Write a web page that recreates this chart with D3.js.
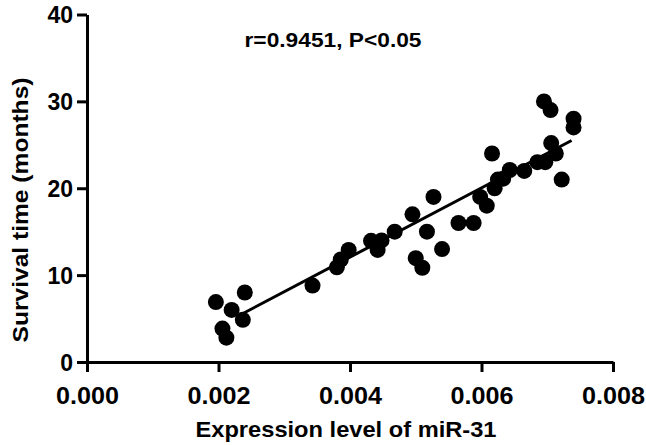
<!DOCTYPE html>
<html><head><meta charset="utf-8">
<script src="https://cdn.jsdelivr.net/npm/d3@7"></script>
<style>body{margin:0;background:#fff}svg{display:block}text{font-family:"Liberation Sans",Arial,sans-serif;font-weight:bold;fill:#000}</style>
</head><body>
<svg id="c" width="646" height="445"></svg>
<script>
const xValues = [0.00196,0.00206,0.00212,0.00220,0.00237,0.00240,0.00343,0.00380,0.00386,0.00398,0.00432,0.00442,0.00448,0.00468,0.00495,0.00500,0.00510,0.00517,0.00527,0.00540,0.00565,0.00588,0.00598,0.00608,0.00616,0.00620,0.00625,0.00633,0.00643,0.00665,0.00685,0.00697,0.00695,0.00705,0.00706,0.00713,0.00722,0.00740,0.00740];
const yValues = [6.9,3.85,2.8,6.0,4.85,8.0,8.8,10.9,11.8,12.9,13.95,12.9,14.0,15.0,17.0,11.95,10.85,15.0,19.0,13.0,16.0,16.0,19.0,18.0,24.0,20.0,21.0,21.1,22.1,22.0,23.0,23.0,30.0,29.0,25.2,24.0,21.0,28.0,27.0];
const xTicks = [0,0.002,0.004,0.006,0.008];
const xTickLabels = ["0.000","0.002","0.004","0.006","0.008"];
const yTicks = [0,10,20,30,40];
const fitX = [0.0023,0.00737];
const fitY = [5.3,25.5];
const annotation = "r=0.9451, P<0.05";
const xTitle = "Expression level of miR-31";
const yTitle = "Survival time (months)";

const svg = d3.select("#c");
const x = d3.scaleLinear().domain([0,0.008]).range([87,613]);
const y = d3.scaleLinear().domain([0,40]).range([362,14.5]);

const xAxis = d3.axisBottom(x).tickValues(xTicks).tickFormat((d,i)=>xTickLabels[i]).tickSize(10).tickSizeOuter(0).tickPadding(12);
const gx = svg.append("g").attr("transform",`translate(0,${y(0)})`).call(xAxis);
const yAxis = d3.axisLeft(y).tickValues(yTicks).tickSize(10).tickSizeOuter(0).tickPadding(4);
const gy = svg.append("g").attr("transform",`translate(${x(0)},0)`).call(yAxis);
[gx,gy].forEach(g=>{
  g.select(".domain").attr("stroke","#000").attr("stroke-width",3);
  g.selectAll(".tick line").attr("stroke","#000").attr("stroke-width",3);
  g.selectAll(".tick text").attr("fill","#000").style("font-family",'"Liberation Sans",Arial,sans-serif').style("font-weight","bold");
});
gy.selectAll(".tick text").attr("font-size",23).attr("dy","0.36em");
gx.selectAll(".tick text").attr("font-size",24).attr("dy","0.85em")
  .attr("textLength",63).attr("lengthAdjust","spacingAndGlyphs");

svg.append("path").datum(fitX.map((d,i)=>[d,fitY[i]]))
  .attr("d", d3.line().x(d=>x(d[0])).y(d=>y(d[1])))
  .attr("stroke","#000").attr("stroke-width",3).attr("fill","none");

svg.append("g").selectAll("circle").data(xValues.map((d,i)=>[d,yValues[i]])).join("circle")
  .attr("cx",d=>x(d[0])).attr("cy",d=>y(d[1])).attr("r",8).attr("fill","#000");

svg.append("text").attr("x",333).attr("y",47).attr("text-anchor","middle").attr("font-size",20)
  .attr("textLength",177).attr("lengthAdjust","spacingAndGlyphs").text(annotation);

svg.append("text").attr("x",346).attr("y",437).attr("text-anchor","middle").attr("font-size",22)
  .attr("textLength",301).attr("lengthAdjust","spacingAndGlyphs").text(xTitle);
svg.append("text").attr("transform","translate(28,210) rotate(-90)").attr("text-anchor","middle").attr("font-size",22)
  .attr("textLength",265).attr("lengthAdjust","spacingAndGlyphs").text(yTitle);
</script>
</body></html>
